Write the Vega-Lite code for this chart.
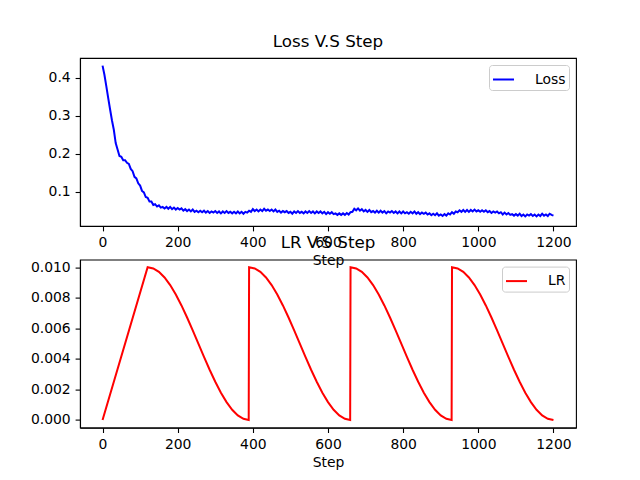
{
  "$schema": "https://vega.github.io/schema/vega-lite/v6.json",
  "padding": {"left": 29, "top": 33, "right": 5, "bottom": 5},
  "background": "white",
  "bounds": "flush",
  "spacing": 33.6,
  "config": {
    "font": "DejaVu Sans",
    "view": {"stroke": "black", "strokeWidth": 1.1},
    "axis": {
      "grid": false,
      "domainColor": "black",
      "domainWidth": 1.1,
      "tickColor": "black",
      "tickWidth": 1.1,
      "tickSize": 4.9,
      "labelPadding": 4.9,
      "labelFontSize": 13.9,
      "labelColor": "black",
      "labelFont": "DejaVu Sans",
      "titleFont": "DejaVu Sans",
      "titleFontSize": 13.9,
      "titleFontWeight": "normal",
      "titleColor": "black",
      "titlePadding": 4
    },
    "legend": {
      "orient": "top-right",
      "offset": 7,
      "padding": 3,
      "fillColor": "rgba(255,255,255,0.8)",
      "strokeColor": "#cccccc",
      "cornerRadius": 3,
      "symbolType": "stroke",
      "symbolSize": 441,
      "symbolStrokeWidth": 2,
      "labelFontSize": 13.9,
      "labelFont": "DejaVu Sans",
      "labelColor": "black",
      "labelOffset": 20,
      "title": null
    },
    "title": {"fontSize": 16.7, "fontWeight": "normal", "font": "DejaVu Sans", "color": "black", "offset": 7.5, "anchor": "middle"}
  },
  "datasets": {
    "loss": [
      {"step":0,"loss":0.432},{"step":5,"loss":0.408},{"step":10,"loss":0.378},{"step":15,"loss":0.347},{"step":20,"loss":0.317},{"step":25,"loss":0.288},{"step":30,"loss":0.263},{"step":35,"loss":0.228},{"step":40,"loss":0.211},{"step":45,"loss":0.194},
      {"step":50,"loss":0.192},{"step":55,"loss":0.183},{"step":60,"loss":0.183},{"step":65,"loss":0.176},{"step":70,"loss":0.173},{"step":75,"loss":0.160},{"step":80,"loss":0.154},{"step":85,"loss":0.139},{"step":90,"loss":0.135},{"step":95,"loss":0.122},
      {"step":100,"loss":0.116},{"step":105,"loss":0.102},{"step":110,"loss":0.098},{"step":115,"loss":0.086},{"step":120,"loss":0.084},{"step":125,"loss":0.074},{"step":130,"loss":0.074},{"step":135,"loss":0.065},{"step":140,"loss":0.067},{"step":145,"loss":0.061},
      {"step":150,"loss":0.064},{"step":155,"loss":0.058},{"step":160,"loss":0.060},{"step":165,"loss":0.056},{"step":170,"loss":0.060},{"step":175,"loss":0.055},{"step":180,"loss":0.060},{"step":185,"loss":0.054},{"step":190,"loss":0.058},{"step":195,"loss":0.053},
      {"step":200,"loss":0.057},{"step":205,"loss":0.053},{"step":210,"loss":0.056},{"step":215,"loss":0.050},{"step":220,"loss":0.054},{"step":225,"loss":0.049},{"step":230,"loss":0.053},{"step":235,"loss":0.048},{"step":240,"loss":0.053},{"step":245,"loss":0.047},
      {"step":250,"loss":0.050},{"step":255,"loss":0.046},{"step":260,"loss":0.050},{"step":265,"loss":0.046},{"step":270,"loss":0.050},{"step":275,"loss":0.045},{"step":280,"loss":0.049},{"step":285,"loss":0.044},{"step":290,"loss":0.048},{"step":295,"loss":0.045},
      {"step":300,"loss":0.049},{"step":305,"loss":0.044},{"step":310,"loss":0.048},{"step":315,"loss":0.043},{"step":320,"loss":0.048},{"step":325,"loss":0.044},{"step":330,"loss":0.049},{"step":335,"loss":0.044},{"step":340,"loss":0.047},{"step":345,"loss":0.043},
      {"step":350,"loss":0.047},{"step":355,"loss":0.043},{"step":360,"loss":0.048},{"step":365,"loss":0.043},{"step":370,"loss":0.047},{"step":375,"loss":0.042},{"step":380,"loss":0.047},{"step":385,"loss":0.045},{"step":390,"loss":0.050},{"step":395,"loss":0.047},
      {"step":400,"loss":0.054},{"step":405,"loss":0.049},{"step":410,"loss":0.053},{"step":415,"loss":0.048},{"step":420,"loss":0.053},{"step":425,"loss":0.049},{"step":430,"loss":0.055},{"step":435,"loss":0.050},{"step":440,"loss":0.053},{"step":445,"loss":0.049},
      {"step":450,"loss":0.053},{"step":455,"loss":0.048},{"step":460,"loss":0.053},{"step":465,"loss":0.047},{"step":470,"loss":0.050},{"step":475,"loss":0.045},{"step":480,"loss":0.049},{"step":485,"loss":0.046},{"step":490,"loss":0.049},{"step":495,"loss":0.044},
      {"step":500,"loss":0.047},{"step":505,"loss":0.042},{"step":510,"loss":0.048},{"step":515,"loss":0.044},{"step":520,"loss":0.049},{"step":525,"loss":0.044},{"step":530,"loss":0.047},{"step":535,"loss":0.043},{"step":540,"loss":0.048},{"step":545,"loss":0.044},
      {"step":550,"loss":0.049},{"step":555,"loss":0.044},{"step":560,"loss":0.048},{"step":565,"loss":0.043},{"step":570,"loss":0.048},{"step":575,"loss":0.044},{"step":580,"loss":0.048},{"step":585,"loss":0.043},{"step":590,"loss":0.047},{"step":595,"loss":0.041},
      {"step":600,"loss":0.046},{"step":605,"loss":0.042},{"step":610,"loss":0.046},{"step":615,"loss":0.041},{"step":620,"loss":0.043},{"step":625,"loss":0.039},{"step":630,"loss":0.043},{"step":635,"loss":0.039},{"step":640,"loss":0.043},{"step":645,"loss":0.039},
      {"step":650,"loss":0.044},{"step":655,"loss":0.040},{"step":660,"loss":0.046},{"step":665,"loss":0.047},{"step":670,"loss":0.055},{"step":675,"loss":0.051},{"step":680,"loss":0.056},{"step":685,"loss":0.050},{"step":690,"loss":0.054},{"step":695,"loss":0.048},
      {"step":700,"loss":0.052},{"step":705,"loss":0.047},{"step":710,"loss":0.052},{"step":715,"loss":0.046},{"step":720,"loss":0.049},{"step":725,"loss":0.045},{"step":730,"loss":0.050},{"step":735,"loss":0.045},{"step":740,"loss":0.050},{"step":745,"loss":0.045},
      {"step":750,"loss":0.049},{"step":755,"loss":0.043},{"step":760,"loss":0.048},{"step":765,"loss":0.045},{"step":770,"loss":0.049},{"step":775,"loss":0.044},{"step":780,"loss":0.048},{"step":785,"loss":0.043},{"step":790,"loss":0.048},{"step":795,"loss":0.043},
      {"step":800,"loss":0.048},{"step":805,"loss":0.043},{"step":810,"loss":0.046},{"step":815,"loss":0.042},{"step":820,"loss":0.047},{"step":825,"loss":0.043},{"step":830,"loss":0.048},{"step":835,"loss":0.042},{"step":840,"loss":0.046},{"step":845,"loss":0.041},
      {"step":850,"loss":0.045},{"step":855,"loss":0.042},{"step":860,"loss":0.045},{"step":865,"loss":0.040},{"step":870,"loss":0.043},{"step":875,"loss":0.038},{"step":880,"loss":0.042},{"step":885,"loss":0.038},{"step":890,"loss":0.043},{"step":895,"loss":0.037},
      {"step":900,"loss":0.040},{"step":905,"loss":0.036},{"step":910,"loss":0.041},{"step":915,"loss":0.037},{"step":920,"loss":0.043},{"step":925,"loss":0.040},{"step":930,"loss":0.046},{"step":935,"loss":0.042},{"step":940,"loss":0.048},{"step":945,"loss":0.046},
      {"step":950,"loss":0.051},{"step":955,"loss":0.047},{"step":960,"loss":0.052},{"step":965,"loss":0.047},{"step":970,"loss":0.052},{"step":975,"loss":0.047},{"step":980,"loss":0.052},{"step":985,"loss":0.048},{"step":990,"loss":0.053},{"step":995,"loss":0.048},
      {"step":1000,"loss":0.051},{"step":1005,"loss":0.047},{"step":1010,"loss":0.051},{"step":1015,"loss":0.047},{"step":1020,"loss":0.051},{"step":1025,"loss":0.046},{"step":1030,"loss":0.049},{"step":1035,"loss":0.044},{"step":1040,"loss":0.048},{"step":1045,"loss":0.045},
      {"step":1050,"loss":0.048},{"step":1055,"loss":0.043},{"step":1060,"loss":0.046},{"step":1065,"loss":0.040},{"step":1070,"loss":0.045},{"step":1075,"loss":0.040},{"step":1080,"loss":0.044},{"step":1085,"loss":0.039},{"step":1090,"loss":0.041},{"step":1095,"loss":0.037},
      {"step":1100,"loss":0.041},{"step":1105,"loss":0.037},{"step":1110,"loss":0.042},{"step":1115,"loss":0.036},{"step":1120,"loss":0.040},{"step":1125,"loss":0.035},{"step":1130,"loss":0.040},{"step":1135,"loss":0.037},{"step":1140,"loss":0.041},{"step":1145,"loss":0.036},
      {"step":1150,"loss":0.040},{"step":1155,"loss":0.035},{"step":1160,"loss":0.040},{"step":1165,"loss":0.036},{"step":1170,"loss":0.042},{"step":1175,"loss":0.037},{"step":1180,"loss":0.040},{"step":1185,"loss":0.036},{"step":1190,"loss":0.042},{"step":1195,"loss":0.039},
      {"step":1200,"loss":0.037}
    ],
    "lr": [
      {"step":0,"lr":0.0},{"step":120,"lr":0.01},
      {"step":135,"lr":0.009924},{"step":150,"lr":0.009698},{"step":165,"lr":0.00933},{"step":180,"lr":0.00883},{"step":195,"lr":0.008214},{"step":210,"lr":0.0075},{"step":225,"lr":0.00671},{"step":240,"lr":0.005868},{"step":255,"lr":0.005},{"step":270,"lr":0.004132},{"step":285,"lr":0.00329},{"step":300,"lr":0.0025},{"step":315,"lr":0.001786},{"step":330,"lr":0.00117},{"step":345,"lr":0.00067},{"step":360,"lr":0.000302},{"step":375,"lr":0.000076},{"step":389,"lr":0.0},
      {"step":390,"lr":0.01},{"step":405,"lr":0.009924},{"step":420,"lr":0.009698},{"step":435,"lr":0.00933},{"step":450,"lr":0.00883},{"step":465,"lr":0.008214},{"step":480,"lr":0.0075},{"step":495,"lr":0.00671},{"step":510,"lr":0.005868},{"step":525,"lr":0.005},{"step":540,"lr":0.004132},{"step":555,"lr":0.00329},{"step":570,"lr":0.0025},{"step":585,"lr":0.001786},{"step":600,"lr":0.00117},{"step":615,"lr":0.00067},{"step":630,"lr":0.000302},{"step":645,"lr":0.000076},{"step":659,"lr":0.0},
      {"step":660,"lr":0.01},{"step":675,"lr":0.009924},{"step":690,"lr":0.009698},{"step":705,"lr":0.00933},{"step":720,"lr":0.00883},{"step":735,"lr":0.008214},{"step":750,"lr":0.0075},{"step":765,"lr":0.00671},{"step":780,"lr":0.005868},{"step":795,"lr":0.005},{"step":810,"lr":0.004132},{"step":825,"lr":0.00329},{"step":840,"lr":0.0025},{"step":855,"lr":0.001786},{"step":870,"lr":0.00117},{"step":885,"lr":0.00067},{"step":900,"lr":0.000302},{"step":915,"lr":0.000076},{"step":929,"lr":0.0},
      {"step":930,"lr":0.01},{"step":945,"lr":0.009924},{"step":960,"lr":0.009698},{"step":975,"lr":0.00933},{"step":990,"lr":0.00883},{"step":1005,"lr":0.008214},{"step":1020,"lr":0.0075},{"step":1035,"lr":0.00671},{"step":1050,"lr":0.005868},{"step":1065,"lr":0.005},{"step":1080,"lr":0.004132},{"step":1095,"lr":0.00329},{"step":1110,"lr":0.0025},{"step":1125,"lr":0.001786},{"step":1140,"lr":0.00117},{"step":1155,"lr":0.00067},{"step":1170,"lr":0.000302},{"step":1185,"lr":0.000076},{"step":1200,"lr":0.0}
    ]
  },
  "resolve": {"scale": {"color": "independent", "x": "independent", "y": "independent"}, "legend": {"color": "independent"}},
  "vconcat": [
    {
      "width": 496,
      "height": 168,
      "title": "Loss V.S Step",
      "data": {"name": "loss"},
      "mark": {"type": "line", "strokeWidth": 2},
      "encoding": {
        "x": {"field": "step", "type": "quantitative", "title": "Step",
              "scale": {"domain": [-60, 1260], "nice": false, "zero": false},
              "axis": {"values": [0, 200, 400, 600, 800, 1000, 1200], "format": "d"}},
        "y": {"field": "loss", "type": "quantitative", "title": null,
              "scale": {"domain": [0.0097, 0.452], "nice": false, "zero": false},
              "axis": {"values": [0.1, 0.2, 0.3, 0.4], "format": ".1f"}},
        "color": {"datum": "Loss", "type": "nominal", "scale": {"domain": ["Loss"], "range": ["blue"]}}
      }
    },
    {
      "width": 496,
      "height": 168,
      "title": "LR V.S Step",
      "data": {"name": "lr"},
      "mark": {"type": "line", "strokeWidth": 2},
      "encoding": {
        "x": {"field": "step", "type": "quantitative", "title": "Step",
              "scale": {"domain": [-60, 1260], "nice": false, "zero": false},
              "axis": {"values": [0, 200, 400, 600, 800, 1000, 1200], "format": "d"}},
        "y": {"field": "lr", "type": "quantitative", "title": null,
              "scale": {"domain": [-0.0005, 0.0105], "nice": false, "zero": false},
              "axis": {"values": [0, 0.002, 0.004, 0.006, 0.008, 0.01], "format": ".3f"}},
        "color": {"datum": "LR", "type": "nominal", "scale": {"domain": ["LR"], "range": ["red"]}}
      }
    }
  ]
}
